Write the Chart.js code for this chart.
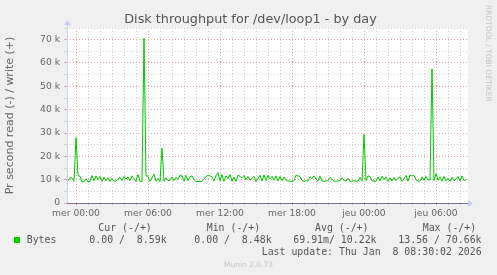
<!DOCTYPE html>
<html>
<head>
<meta charset="utf-8">
<script src="https://cdn.jsdelivr.net/npm/chart.js@4.4.1/dist/chart.umd.min.js"></script>
<style>
  html, body { margin: 0; padding: 0; background: #f0f0f0; }
  #wrap { position: relative; width: 497px; height: 275px; overflow: hidden; background: #f0f0f0; }
  canvas { position: absolute; left: 0; top: 0; }
  .t { position: absolute; white-space: pre; line-height: 1.164; color: #666; }
  .sans { font-family: "DejaVu Sans", sans-serif; }
  .mono { font-family: "DejaVu Sans Mono", monospace; font-size: 9.9px; color: #555; }
</style>
</head>
<body>
<div id="wrap">
  <canvas id="c" width="497" height="275"></canvas>
</div>
<script>
// ---- data (write throughput, in k bytes/s, 10-minute samples starting Tue 23:20) ----
const startHour = -2 / 3;   // hours relative to "mer 00:00"
const stepHours = 1 / 6;    // 10 minutes
const writeK = [
  9.5, 10.8, 10.8, 9.3, 28, 11.8, 11.5, 9.0, 9.2, 10.4,
  9.0, 9.3, 11.8, 9.5, 11.6, 10.0, 11.4, 9.3, 11.0, 9.6,
  10.8, 9.2, 10.4, 9.4, 9.3, 10.2, 11.0, 9.6, 11.4, 10.2,
  11.2, 9.6, 11.6, 10.4, 9.3, 12.2, 9.3, 9.2, 70.66, 11.8,
  11.5, 9.2, 10.8, 12.4, 9.3, 10.5, 9.2, 23.5, 9.3, 10.8,
  9.6, 9.8, 11.2, 9.6, 11.0, 10.2, 12.0, 11.6, 9.4, 11.8,
  9.6, 11.2, 11.6, 10.0, 9.2, 9.3, 9.1, 9.4, 10.2, 11.4,
  11.8, 11.6, 11.2, 9.4, 11.8, 13.0, 9.6, 12.2, 9.2, 11.6,
  10.4, 12.2, 9.4, 11.0, 9.3, 12.0, 11.4, 10.8, 11.8, 10.0,
  11.4, 9.8, 10.6, 11.4, 9.2, 10.4, 11.8, 9.4, 12.0, 9.6,
  11.8, 10.2, 11.4, 9.8, 11.6, 9.4, 11.4, 9.6, 11.2, 9.6,
  9.4, 9.3, 9.4, 9.6, 11.9, 11.6, 11.4, 9.6, 9.3, 9.5,
  9.4, 11.2, 10.4, 11.6, 10.2, 9.4, 11.6, 9.4, 9.3, 9.4,
  9.6, 11.0, 10.2, 9.4, 9.3, 9.4, 9.6, 10.8, 9.6, 9.4,
  10.6, 9.3, 9.4, 9.6, 9.3, 9.4, 11.0, 9.4, 29.5, 9.6,
  11.6, 11.4, 9.5, 9.4, 9.3, 11.2, 9.4, 11.4, 10.0, 11.2,
  9.3, 10.8, 9.4, 11.0, 9.6, 10.6, 11.2, 9.2, 10.4, 11.8,
  9.4, 12.0, 11.6, 11.8, 10.0, 9.3, 9.4, 11.2, 9.6, 11.4,
  10.0, 9.8, 57.5, 9.6, 12.6, 9.8, 11.2, 9.3, 11.4, 9.4,
  10.6, 9.3, 11.0, 9.6, 10.2, 11.4, 9.4, 11.6, 9.6, 10.0
];
const xMinHour = -0.75;
const xMaxHour = 32.583;
const xTickHours = [0, 6, 12, 18, 24, 30];
const xTickLabels = ['mer 00:00', 'mer 06:00', 'mer 12:00', 'mer 18:00', 'jeu 00:00', 'jeu 06:00'];
const yTickValues = [0, 10, 20, 30, 40, 50, 60, 70];
const yTickLabels = ['0', '10 k', '20 k', '30 k', '40 k', '50 k', '60 k', '70 k'];
const titleText = 'Disk throughput for /dev/loop1 - by day';
const yAxisTitle = 'Pr second read (-) / write (+)';
const seriesName = 'Bytes';
const statHeaders = ['Cur (-/+)', 'Min (-/+)', 'Avg (-/+)', 'Max (-/+)'];
const statValues = ['0.00 /  8.59k', '0.00 /  8.48k', '69.91m/ 10.22k', '13.56 / 70.66k'];
const lastUpdate = 'Last update: Thu Jan  8 08:30:02 2026';
const footer = 'Munin 2.0.73';
const sideText = 'RRDTOOL / TOBI OETIKER';

// ---- build chart ----
const points = writeK.map((v, i) => ({ x: startHour + i * stepHours, y: v }));
const lineColor = '#00cc00';
const majorGrid = '#e5a9a9';
const minorGrid = '#d4d4d4';

const decor = {
  id: 'decor',
  beforeDraw(chart) {
    const { ctx, chartArea: a } = chart;
    ctx.save();
    ctx.fillStyle = '#ffffff';
    ctx.fillRect(a.left, a.top, a.right - a.left + 1, a.bottom - a.top);
    ctx.restore();
  },
  afterDraw(chart) {
    const { ctx, chartArea: a } = chart;
    const y0 = Math.round(chart.scales.y.getPixelForValue(0)) + 0.5;
    const x0 = Math.round(a.left) + 0.5;
    ctx.save();
    ctx.lineWidth = 1;
    // y axis
    ctx.strokeStyle = '#cfd6f8';
    ctx.beginPath(); ctx.moveTo(x0, a.top - 4); ctx.lineTo(x0, y0); ctx.stroke();
    // x axis (zero line)
    ctx.strokeStyle = '#77778a';
    ctx.beginPath(); ctx.moveTo(x0 - 0.5, y0); ctx.lineTo(a.right + 1, y0); ctx.stroke();
    // arrows
    ctx.fillStyle = '#c8cff8';
    ctx.beginPath();
    ctx.moveTo(a.right + 1, y0 - 3.5); ctx.lineTo(a.right + 6, y0); ctx.lineTo(a.right + 1, y0 + 3.5);
    ctx.closePath(); ctx.fill();
    ctx.beginPath();
    ctx.moveTo(x0 - 3.5, a.top - 3); ctx.lineTo(x0, a.top - 8); ctx.lineTo(x0 + 3.5, a.top - 3);
    ctx.closePath(); ctx.fill();
    ctx.restore();
  }
};

new Chart(document.getElementById('c'), {
  type: 'line',
  data: {
    datasets: [{
      label: seriesName,
      data: points,
      borderColor: lineColor,
      backgroundColor: lineColor,
      borderWidth: 1,
      pointRadius: 0,
      tension: 0,
      clip: false
    }]
  },
  options: {
    responsive: false,
    devicePixelRatio: 1,
    animation: false,
    events: [],
    layout: { padding: { left: 0, right: 30, top: 28, bottom: 0 } },
    plugins: { legend: { display: false }, tooltip: { enabled: false }, title: { display: false } },
    scales: {
      x: {
        type: 'linear',
        min: xMinHour,
        max: xMaxHour,
        afterFit(s) { s.height = 72; },
        afterBuildTicks(s) {
          const t = [];
          for (let h = 0; h <= Math.floor(xMaxHour); h++) t.push({ value: h });
          s.ticks = t;
        },
        grid: {
          color: (c) => (c.tick && xTickHours.includes(c.tick.value)) ? majorGrid : minorGrid,
          lineWidth: 1,
          drawTicks: true,
          tickLength: 3
        },
        border: { display: false, dash: [1, 2] },
        ticks: {
          autoSkip: false,
          maxRotation: 0,
          padding: 2,
          color: '#666',
          font: { family: 'DejaVu Sans', size: 9.2 },
          callback: (v) => {
            const k = xTickHours.indexOf(v);
            return k >= 0 ? xTickLabels[k] : '';
          }
        }
      },
      y: {
        min: 0,
        max: 75,
        afterFit(s) { s.width = 67; },
        afterBuildTicks(s) {
          const t = [];
          for (let v = 0; v <= 75; v += 5) t.push({ value: v });
          s.ticks = t;
        },
        grid: {
          color: (c) => (c.tick && yTickValues.includes(c.tick.value)) ? majorGrid : minorGrid,
          lineWidth: 1,
          drawTicks: true,
          tickLength: 3
        },
        border: { display: false, dash: [1, 2] },
        title: {
          display: true,
          text: yAxisTitle,
          color: '#666',
          font: { family: 'DejaVu Sans', size: 11 },
          padding: { top: 4, bottom: 0 }
        },
        ticks: {
          autoSkip: false,
          padding: 4,
          color: '#666',
          font: { family: 'DejaVu Sans', size: 9.2 },
          callback: (v) => {
            const k = yTickValues.indexOf(v);
            return k >= 0 ? yTickLabels[k] : '';
          }
        }
      }
    }
  },
  plugins: [decor]
});

// ---- text blocks (HTML) ----
const wrap = document.getElementById('wrap');
function addText(txt, cls, left, baseline, size, extra) {
  const d = document.createElement('div');
  d.className = 't ' + cls;
  d.textContent = txt;
  d.style.fontSize = size + 'px';
  d.style.left = left + 'px';
  d.style.top = (baseline - 0.928 * size) + 'px';
  if (extra) Object.assign(d.style, extra);
  wrap.appendChild(d);
  return d;
}
// title (centered)
const tt = addText(titleText, 'sans', 0, 24, 12.8, { width: '501px', textAlign: 'center', color: '#555' });
// side text
const sd = document.createElement('div');
sd.className = 't sans';
sd.textContent = sideText;
Object.assign(sd.style, { fontSize: '7.5px', left: '483.5px', top: '5px', writingMode: 'vertical-rl', color: '#c4c4c4' });
wrap.appendChild(sd);

const headerX = [98.3, 206.7, 315, 422.7];
const valueX = [89.3, 194.3, 293.3, 398.3];
statHeaders.forEach((h, i) => addText(h, 'mono', headerX[i], 231.3, 9.9));
statValues.forEach((v, i) => addText(v, 'mono', valueX[i], 243, 9.9));
addText(seriesName, 'mono', 26.7, 243, 9.9);
const sq = document.createElement('div');
Object.assign(sq.style, { position: 'absolute', left: '14px', top: '237px', width: '6px', height: '6px', background: lineColor });
wrap.appendChild(sq);
addText(lastUpdate, 'mono', 261.7, 254.7, 9.9);
addText(footer, 'sans', 0, 267.5, 7.5, { width: '497px', textAlign: 'center', color: '#c8c8c8' });
</script>
</body>
</html>
